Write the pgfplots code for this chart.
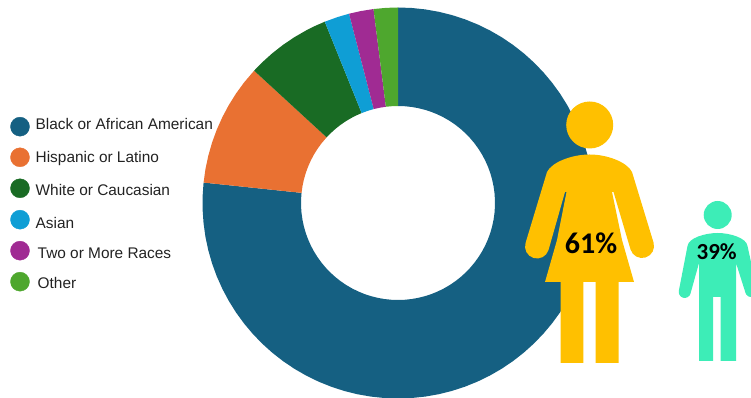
\documentclass[border=0pt]{standalone}
\usepackage{pgfplots}
\pgfplotsset{compat=1.18}
\usepackage{fontspec}
\setmainfont{Liberation Sans}
\newfontfamily\iconfont{Carlito}
\definecolor{cBlue}{HTML}{156082}
\definecolor{cOrange}{HTML}{E97132}
\definecolor{cGreen}{HTML}{196B24}
\definecolor{cCyan}{HTML}{0F9ED5}
\definecolor{cPurple}{HTML}{A02B93}
\definecolor{cLeaf}{HTML}{4EA72E}
\definecolor{cGold}{HTML}{FFC000}
\definecolor{cTeal}{HTML}{3DEDB7}
\definecolor{cLabel}{HTML}{222222}
\begin{document}
\begin{tikzpicture}
\clip (0,0) rectangle (751pt,398pt);
\begin{axis}[
  at={(0,0)}, anchor=south west,
  hide axis,
  scale only axis,
  width=751pt, height=398pt,
  xmin=-398, xmax=353,
  ymin=-195, ymax=203,
  clip=true,
]
% Ring segments as (angle, radius) outlines, clockwise from the top
\addplot[data cs=polar, fill=cBlue, draw=none] coordinates {
 (90,195.5)(86,195.5)(82,195.5)(78,195.5)(74,195.5)(70,195.5)(66,195.5)(62,195.5)(58,195.5)(54,195.5)
 (50,195.5)(46,195.5)(42,195.5)(38,195.5)(34,195.5)(30,195.5)(26,195.5)(22,195.5)(18,195.5)(14,195.5)
 (10,195.5)(6,195.5)(2,195.5)(-2,195.5)(-6,195.5)(-10,195.5)(-14,195.5)(-18,195.5)(-22,195.5)(-26,195.5)
 (-30,195.5)(-34,195.5)(-38,195.5)(-42,195.5)(-46,195.5)(-50,195.5)(-54,195.5)(-58,195.5)(-62,195.5)(-66,195.5)
 (-70,195.5)(-74,195.5)(-78,195.5)(-82,195.5)(-86,195.5)(-90,195.5)(-94,195.5)(-98,195.5)(-102,195.5)(-106,195.5)
 (-110,195.5)(-114,195.5)(-118,195.5)(-122,195.5)(-126,195.5)(-130,195.5)(-134,195.5)(-138,195.5)(-142,195.5)(-146,195.5)
 (-150,195.5)(-154,195.5)(-158,195.5)(-162,195.5)(-166,195.5)(-170,195.5)(-174,195.5)(-178,195.5)(-182,195.5)(-186,195.5)
 (-186,97)(-182,97)(-178,97)(-174,97)(-170,97)(-166,97)(-162,97)(-158,97)(-154,97)(-150,97)
 (-146,97)(-142,97)(-138,97)(-134,97)(-130,97)(-126,97)(-122,97)(-118,97)(-114,97)(-110,97)
 (-106,97)(-102,97)(-98,97)(-94,97)(-90,97)(-86,97)(-82,97)(-78,97)(-74,97)(-70,97)
 (-66,97)(-62,97)(-58,97)(-54,97)(-50,97)(-46,97)(-42,97)(-38,97)(-34,97)(-30,97)
 (-26,97)(-22,97)(-18,97)(-14,97)(-10,97)(-6,97)(-2,97)(2,97)(6,97)(10,97)
 (14,97)(18,97)(22,97)(26,97)(30,97)(34,97)(38,97)(42,97)(46,97)(50,97)
 (54,97)(58,97)(62,97)(66,97)(70,97)(74,97)(78,97)(82,97)(86,97)(90,97)
} -- cycle;
\addplot[data cs=polar, fill=cOrange, draw=none] coordinates {
 (174,195.5)(170,195.5)(166,195.5)(162,195.5)(158,195.5)(154,195.5)(150,195.5)(146,195.5)(142,195.5)(137.4,195.5)
 (137.4,97)(142,97)(146,97)(150,97)(154,97)(158,97)(162,97)(166,97)(170,97)(174,97)
} -- cycle;
\addplot[data cs=polar, fill=cGreen, draw=none] coordinates {
 (137.4,195.5)(134,195.5)(130,195.5)(126,195.5)(122,195.5)(118,195.5)(115,195.5)(112,195.5)
 (112,97)(115,97)(118,97)(122,97)(126,97)(130,97)(134,97)(137.4,97)
} -- cycle;
\addplot[data cs=polar, fill=cCyan, draw=none] coordinates {
 (112,195.5)(108,195.5)(104.5,195.5)(104.5,97)(108,97)(112,97)
} -- cycle;
\addplot[data cs=polar, fill=cPurple, draw=none] coordinates {
 (104.5,195.5)(101,195.5)(97.2,195.5)(97.2,97)(101,97)(104.5,97)
} -- cycle;
\addplot[data cs=polar, fill=cLeaf, draw=none] coordinates {
 (97.2,195.5)(93.5,195.5)(90,195.5)(90,97)(93.5,97)(97.2,97)
} -- cycle;

% Legend swatches
\addplot[only marks, mark=*, mark size=9.5pt, color=cBlue, mark options={draw=none, fill=cBlue}] coordinates {(-378,76.3)};
\addplot[only marks, mark=*, mark size=9.5pt, color=cOrange, mark options={draw=none, fill=cOrange}] coordinates {(-378,45.7)};
\addplot[only marks, mark=*, mark size=9.5pt, color=cGreen, mark options={draw=none, fill=cGreen}] coordinates {(-378,14.7)};
\addplot[only marks, mark=*, mark size=9.5pt, color=cCyan, mark options={draw=none, fill=cCyan}] coordinates {(-378,-16.7)};
\addplot[only marks, mark=*, mark size=9.5pt, color=cPurple, mark options={draw=none, fill=cPurple}] coordinates {(-378,-47.7)};
\addplot[only marks, mark=*, mark size=9.5pt, color=cLeaf, mark options={draw=none, fill=cLeaf}] coordinates {(-378,-78.7)};

% Legend labels and figures, laid out from the top-left corner of the plot
\begin{scope}[shift={(axis cs:-398,203)}, x=1pt, y=-1pt]
  \begin{scope}[every node/.style={anchor=base west, inner sep=0pt, text=cLabel, font=\fontsize{15.4}{18}\selectfont}]
    \node at (35.5,129.3) {Black or African American};
    \node at (35.5,162.7) {Hispanic or Latino};
    \node at (35.5,195.7) {White or Caucasian};
    \node at (35.5,229) {Asian};
    \node at (37.5,259) {Two or More Races};
    \node at (37.5,288.7) {Other};
  \end{scope}

  % Woman
  \fill[cGold] (589.7,125) circle[radius=23.5];
  \fill[cGold]
    (560.7,363) -- (560.7,282) -- (545,282) -- (557,240) -- (566.5,192)
    -- (565,192) -- (548.5,250)
    arc[start angle=17, end angle=197, radius=12]
    -- (547,172)
    .. controls (552,162) and (572,154.5) .. (589.7,154.5)
    .. controls (607,154.5) and (627,162) .. (632,172)
    -- (653.5,242.5)
    arc[start angle=-17, end angle=163, radius=12]
    -- (613.5,192) -- (612,192) -- (622,240) -- (634,282) -- (618.7,282)
    -- (618.7,363) -- (595.7,363) -- (595.7,282) -- (583.3,282) -- (583.3,363)
    -- cycle;
  \node[text=black, font=\iconfont\bfseries\fontsize{30}{30}\selectfont] at (591,243) {61\%};

  % Man
  \fill[cTeal] (717.7,215) circle[radius=14];
  \fill[cTeal]
    (699,361) -- (699,263) -- (690.5,293.5)
    arc[start angle=15, end angle=195, radius=6]
    -- (687.5,246)
    .. controls (688.5,238) and (705,233) .. (717.7,233)
    .. controls (730,233) and (746.5,238) .. (747.5,246)
    -- (757,289.5)
    arc[start angle=-15, end angle=165, radius=6]
    -- (736,263) -- (736,361) -- (720.7,361) -- (720.7,297) -- (713,297) -- (713,361)
    -- cycle;
  \node[text=black, font=\iconfont\bfseries\fontsize{23}{23}\selectfont] at (716.7,251.7) {39\%};
\end{scope}
\end{axis}
\end{tikzpicture}
\end{document}
